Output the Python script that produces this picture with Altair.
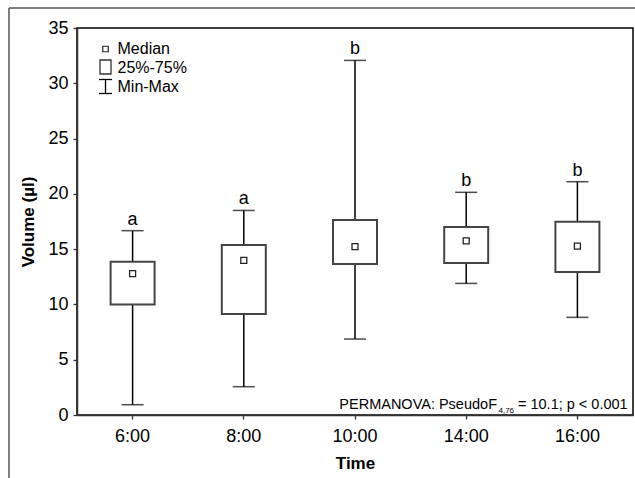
import altair as alt
import pandas as pd

times = ["6:00", "8:00", "10:00", "14:00", "16:00"]
mins = [0.93, 2.56, 6.87, 11.9, 8.83]
q1 = [10.0, 9.13, 13.65, 13.74, 12.93]
medians = [12.78, 13.98, 15.22, 15.74, 15.28]
q3 = [13.86, 15.37, 17.63, 17.0, 17.48]
maxs = [16.67, 18.5, 32.07, 20.14, 21.1]
letters = ["a", "a", "b", "b", "b"]

legend_labels = ["Median", "25%-75%", "Min-Max"]
stat_main = "PERMANOVA: PseudoF"
stat_sub = "4,76"
stat_rest = "= 10.1; p < 0.001"

FONT = "Liberation Sans"

df = pd.DataFrame({"time": times, "min": mins, "q1": q1, "median": medians,
                   "q3": q3, "max": maxs, "letter": letters})
one = pd.DataFrame({"k": [0]})

x = alt.X("time:N", sort=times, title="Time",
          scale=alt.Scale(paddingInner=0, paddingOuter=0),
          axis=alt.Axis(labelAngle=0, tickSize=4, labelPadding=8, titlePadding=10,
                        domainColor="#333", tickColor="#333", tickWidth=1.3, domainWidth=1.5))
yscale = alt.Scale(domain=[0, 35], nice=False, zero=True)
y = alt.Y("min:Q", scale=yscale, title="Volume (µl)",
          axis=alt.Axis(values=[0, 5, 10, 15, 20, 25, 30, 35], tickSize=4, labelPadding=5,
                        titlePadding=10, grid=False, domainColor="#333", tickColor="#333",
                        tickWidth=1.3, domainWidth=1.5))

base = alt.Chart(df)

whisker = base.mark_rule(color="black", strokeWidth=1.5).encode(x=x, y=y, y2="max:Q")
caps_top = base.mark_tick(color="black", size=22, thickness=1.5).encode(
    x=alt.X("time:N", sort=times), y=alt.Y("max:Q", scale=yscale))
caps_bot = base.mark_tick(color="black", size=22, thickness=1.5).encode(
    x=alt.X("time:N", sort=times), y=alt.Y("min:Q", scale=yscale))
box = base.mark_bar(size=44, fill="white", stroke="#444", strokeWidth=2).encode(
    x=alt.X("time:N", sort=times), y=alt.Y("q1:Q", scale=yscale), y2="q3:Q")
med = base.mark_square(size=36, fill="white", stroke="#222", strokeWidth=1.3, opacity=1).encode(
    x=alt.X("time:N", sort=times), y=alt.Y("median:Q", scale=yscale))
lett = base.mark_text(font=FONT, fontSize=18, dy=-6, baseline="alphabetic", color="black").encode(
    x=alt.X("time:N", sort=times), y=alt.Y("max:Q", scale=yscale), text="letter:N")

o = alt.Chart(one)
frame_v = o.mark_rule(color="#555", strokeWidth=1.5).encode(
    x=alt.value(-68), y=alt.value(-20), y2=alt.value(470))
frame_h = o.mark_rule(color="#555", strokeWidth=1.5).encode(
    x=alt.value(-68), x2=alt.value(620), y=alt.value(-20))

leg_sq = o.mark_square(size=30, fill="white", stroke="#222", strokeWidth=1.2, opacity=1).encode(
    x=alt.value(28.5), y=alt.value(21))
leg_box = o.mark_rect(fill="white", stroke="#333", strokeWidth=1.3).encode(
    x=alt.value(23), x2=alt.value(34), y=alt.value(32), y2=alt.value(46))
leg_wv = o.mark_rule(color="black", strokeWidth=1.3).encode(
    x=alt.value(28.5), y=alt.value(51.5), y2=alt.value(65.5))
leg_wt = o.mark_rule(color="black", strokeWidth=1.3).encode(
    x=alt.value(22), x2=alt.value(35), y=alt.value(51.5))
leg_wb = o.mark_rule(color="black", strokeWidth=1.3).encode(
    x=alt.value(22), x2=alt.value(35), y=alt.value(65.5))
leg_t = [o.mark_text(font=FONT, fontSize=16, align="left", baseline="middle", color="black").encode(
    x=alt.value(40.5), y=alt.value(yy), text=alt.value(t))
    for t, yy in zip(legend_labels, [21, 39.5, 59])]

st_main = o.mark_text(font=FONT, fontSize=14.5, align="right", baseline="alphabetic", color="black").encode(
    x=alt.value(420), y=alt.value(381), text=alt.value(stat_main))
st_sub = o.mark_text(font=FONT, fontSize=8, align="left", baseline="alphabetic", color="black").encode(
    x=alt.value(421.5), y=alt.value(385), text=alt.value(stat_sub))
st_rest = o.mark_text(font=FONT, fontSize=14.5, align="left", baseline="alphabetic", color="black").encode(
    x=alt.value(441), y=alt.value(381), text=alt.value(stat_rest))

chart = alt.layer(
    frame_v, frame_h, whisker, caps_top, caps_bot, box, med, lett,
    leg_sq, leg_box, leg_wv, leg_wt, leg_wb, *leg_t, st_main, st_sub, st_rest
).properties(
    width=556, height=387,
    autosize=alt.AutoSizeParams(type="none"),
    padding={"left": 77, "top": 28, "right": 2, "bottom": 63},
    background="white",
).configure_view(
    stroke="black", strokeWidth=1.5
).configure_axis(
    labelFont=FONT, labelFontSize=18, labelColor="black",
    titleFont=FONT, titleFontSize=17, titleFontWeight="bold", titleColor="black",
)

chart.save("out.html", embed_options={"renderer": "svg", "actions": False})
